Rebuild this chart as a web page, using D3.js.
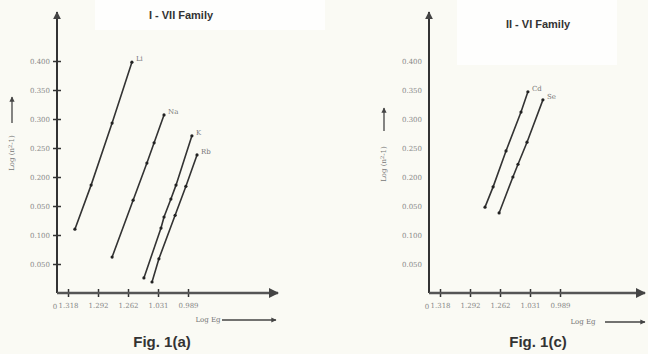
<!DOCTYPE html>
<html>
<head>
<meta charset="utf-8">
<script src="https://cdn.jsdelivr.net/npm/d3@7"></script>
<style>
  body { margin: 0; background: #fafaf4; }
  svg { display: block; }
  text { font-family: "Liberation Sans", Arial, sans-serif; }
</style>
</head>
<body>
<svg id="chart" width="648" height="354"></svg>
<script>
// tick labels (as printed on the figure)
const xTickPos = [1, 2, 3, 4, 5];
const xTickLabels = ["1.318", "1.292", "1.262", "1.031", "0.989"];
const yTickValues = [0.05, 0.10, 0.15, 0.20, 0.25, 0.30, 0.35, 0.40];
const yTickLabels = ["0.050", "0.100", "0.050", "0.200", "0.250", "0.300", "0.350", "0.400"];

// I - VII family: [x position, log(n^2-1)]
const li = [[1.23, 0.110], [1.77, 0.186], [2.47, 0.293], [3.13, 0.398]];
const na = [[2.47, 0.062], [3.17, 0.160], [3.63, 0.224], [3.87, 0.259], [4.20, 0.307]];
const k  = [[3.53, 0.026], [4.10, 0.112], [4.20, 0.131], [4.43, 0.162], [4.60, 0.186], [5.13, 0.271]];
const rb = [[3.80, 0.019], [4.03, 0.059], [4.57, 0.134], [4.93, 0.184], [5.30, 0.238]];

// II - VI family
const cd = [[2.50, 0.148], [2.77, 0.183], [3.20, 0.245], [3.70, 0.312], [3.93, 0.347]];
const se = [[2.97, 0.138], [3.43, 0.200], [3.60, 0.222], [3.90, 0.260], [4.43, 0.333]];

const svg = d3.select("#chart");
const defs = svg.append("defs");
defs.append("marker")
    .attr("id", "arr")
    .attr("viewBox", "0 0 10 10")
    .attr("refX", 9).attr("refY", 5)
    .attr("markerWidth", 4).attr("markerHeight", 4)
    .attr("orient", "auto")
  .append("path")
    .attr("d", "M0,0 L10,5 L0,10 z")
    .attr("fill", "#444");

const panels = [
  { x0: 57, x1: 278, title: "I - VII Family", titleX: 181, titleY: 19,
    titleBox: [95, 0, 230, 30], fig: "Fig. 1(a)", figX: 162,
    yTicks: true, ylabX: 12, ylabArrow: [123, 97], ylabY: 153,
    egText: 208, egArrow: [222, 276], egY: 320,
    series: [["Li", li], ["Na", na], ["K", k], ["Rb", rb]] },
  { x0: 429, x1: 645, title: "II - VI Family", titleX: 538, titleY: 28,
    titleBox: [457, 0, 160, 65], fig: "Fig. 1(c)", figX: 538,
    yTicks: false, ylabX: 384, ylabArrow: [131, 108], ylabY: 164,
    egText: 583, egArrow: [605, 645], egY: 322,
    series: [["Cd", cd], ["Se", se]] }
];

panels.forEach(drawPanel);

function drawPanel(p) {
  const g = svg.append("g");

  // title background
  g.append("rect")
      .attr("x", p.titleBox[0]).attr("y", p.titleBox[1])
      .attr("width", p.titleBox[2]).attr("height", p.titleBox[3])
      .attr("fill", "#fefefd");

  const x = d3.scaleLinear().domain([0.633, 0.633 + (p.x1 - p.x0) / 30]).range([p.x0, p.x1]);
  const y = d3.scaleLinear().domain([0, 0.4845]).range([293, 12]);

  // y axis
  const yAxis = g.append("g")
      .attr("transform", `translate(${p.x0},0)`)
      .call(d3.axisLeft(y)
        .tickValues(yTickValues)
        .tickFormat((d, i) => yTickLabels[i])
        .tickSize(p.yTicks ? 4 : 0)
        .tickPadding(p.yTicks ? 3 : 7));
  yAxis.select(".domain").remove();
  yAxis.selectAll(".tick line").attr("stroke", "#333").attr("stroke-width", 1.5);
  if (p.yTicks) {
    yAxis.selectAll(".tick").append("line")
        .attr("x2", 4).attr("stroke", "#333").attr("stroke-width", 1.5);
  }
  yAxis.selectAll(".tick text")
      .attr("fill", "#888").style("font-size", "7px")
      .style("font-family", "DejaVu Serif");
  g.append("line")
      .attr("x1", p.x0).attr("x2", p.x0)
      .attr("y1", y(0)).attr("y2", y.range()[1])
      .attr("stroke", "#333").attr("stroke-width", 2)
      .attr("marker-end", "url(#arr)");

  // x axis
  const xAxis = g.append("g")
      .attr("transform", `translate(0,${y(0)})`)
      .call(d3.axisBottom(x)
        .tickValues(xTickPos)
        .tickFormat((d, i) => xTickLabels[i])
        .tickSize(4).tickPadding(6));
  xAxis.select(".domain").remove();
  xAxis.selectAll(".tick line").attr("stroke", "#333").attr("stroke-width", 1.5);
  xAxis.selectAll(".tick").append("line")
      .attr("y2", -4).attr("stroke", "#333").attr("stroke-width", 1.5);
  xAxis.selectAll(".tick text")
      .attr("fill", "#888").style("font-size", "7px")
      .style("font-family", "DejaVu Serif");
  g.append("text")
      .attr("x", p.x0 - 2).attr("y", y(0) + 16)
      .attr("text-anchor", "middle")
      .attr("fill", "#888").style("font-size", "7px")
      .style("font-family", "DejaVu Serif").text("0");
  g.append("line")
      .attr("x1", p.x0).attr("x2", p.x1)
      .attr("y1", y(0)).attr("y2", y(0))
      .attr("stroke", "#555").attr("stroke-width", 2.5)
      .attr("marker-end", "url(#arr)");

  // axis captions
  g.append("text")
      .attr("transform", `translate(${p.ylabX + 2},${p.ylabY}) rotate(-90)`)
      .attr("text-anchor", "middle")
      .attr("fill", "#777").style("font-size", "7px")
      .style("font-family", "DejaVu Serif")
      .html("Log (n<tspan dy='-2' font-size='5'>2</tspan><tspan dy='2'>-1)</tspan>");
  g.append("line")
      .attr("x1", p.ylabX).attr("x2", p.ylabX)
      .attr("y1", p.ylabArrow[0]).attr("y2", p.ylabArrow[1])
      .attr("stroke", "#444").attr("stroke-width", 1.3)
      .attr("marker-end", "url(#arr)");
  g.append("text")
      .attr("x", p.egText).attr("y", p.egY + 2)
      .attr("text-anchor", "middle")
      .attr("fill", "#777").style("font-size", "7px")
      .style("font-family", "DejaVu Serif").text("Log Eg");
  g.append("line")
      .attr("x1", p.egArrow[0]).attr("x2", p.egArrow[1])
      .attr("y1", p.egY).attr("y2", p.egY)
      .attr("stroke", "#444").attr("stroke-width", 1.3)
      .attr("marker-end", "url(#arr)");

  // titles
  g.append("text")
      .attr("x", p.titleX).attr("y", p.titleY)
      .attr("text-anchor", "middle")
      .attr("fill", "#333").style("font-size", "11px").style("font-weight", "bold")
      .text(p.title);
  g.append("text")
      .attr("x", p.figX).attr("y", 347)
      .attr("text-anchor", "middle")
      .attr("fill", "#333").style("font-size", "15px").style("font-weight", "bold")
      .text(p.fig);

  // series
  const line = d3.line().x(d => x(d[0])).y(d => y(d[1]));
  p.series.forEach(([name, pts]) => {
    g.append("path")
        .attr("d", line(pts))
        .attr("fill", "none")
        .attr("stroke", "#333").attr("stroke-width", 1.6);
    g.selectAll(null)
        .data(pts)
        .enter()
        .append("circle")
        .attr("cx", d => x(d[0]))
        .attr("cy", d => y(d[1]))
        .attr("r", 1.6)
        .attr("fill", "#222");
    const last = pts[pts.length - 1];
    g.append("text")
        .attr("x", x(last[0]) + 4).attr("y", y(last[1]) - 1)
        .attr("fill", "#777").style("font-size", "7px")
        .style("font-family", "DejaVu Serif")
        .text(name);
  });
}
</script>
</body>
</html>
